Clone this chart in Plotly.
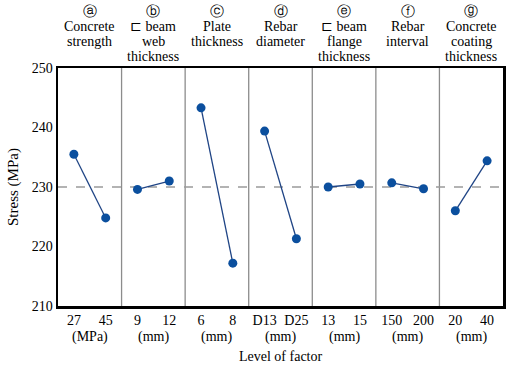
import plotly.graph_objects as go

factor_letters = ["ⓐ", "ⓑ", "ⓒ", "ⓓ", "ⓔ", "ⓕ", "ⓖ"]
factor_names = [
    ["Concrete", "strength"],
    ["\u228f beam", "web", "thickness"],
    ["Plate", "thickness"],
    ["Rebar", "diameter"],
    ["\u228f beam", "flange", "thickness"],
    ["Rebar", "interval"],
    ["Concrete", "coating", "thickness"],
]
level_labels = [["27", "45"], ["9", "12"], ["6", "8"], ["D13", "D25"],
                ["13", "15"], ["150", "200"], ["20", "40"]]
units = ["(MPa)", "(mm)", "(mm)", "(mm)", "(mm)", "(mm)", "(mm)"]
stress = [[235.5, 224.8], [229.6, 231.0], [243.3, 217.2], [239.4, 221.3],
          [230.0, 230.5], [230.7, 229.7], [226.0, 234.4]]
mean_stress = 230
y_ticks = [210, 220, 230, 240, 250]

FONT = "Liberation Serif, Times New Roman, serif"
TOP, BOTTOM = 68, 306
fig = go.Figure()

tickvals, ticktext = [], []
for i, (lv, vals) in enumerate(zip(level_labels, stress)):
    xs = [2 * i + 0.5, 2 * i + 1.5]
    tickvals += xs
    ticktext += lv
    fig.add_trace(go.Scatter(
        x=xs, y=vals, mode="lines+markers",
        line=dict(color="#1f4485", width=1.3),
        marker=dict(color="#0b4f9e", size=9),
        showlegend=False, hoverinfo="skip"))

shapes = []
for i in range(1, 7):
    shapes.append(dict(type="line", xref="x", yref="paper", x0=2 * i, x1=2 * i,
                       y0=0, y1=1, line=dict(color="#8c8c8c", width=1.3), layer="below"))
shapes.append(dict(type="line", xref="paper", yref="y", x0=0, x1=1,
                   y0=mean_stress, y1=mean_stress,
                   line=dict(color="#9a9a9a", width=1.3, dash="dash"), layer="below"))

annotations = []
for i in range(7):
    lines = [factor_letters[i]] + factor_names[i]
    for j, t in enumerate(lines):
        annotations.append(dict(
            x=2 * i + 1, xref="x", y=1, yref="paper", yanchor="middle",
            yshift=TOP - (11 + 15 * j),
            text=t, showarrow=False,
            font=dict(family=FONT, size=14, color="black")))
    annotations.append(dict(
        x=2 * i + 1, xref="x", y=0, yref="paper", yanchor="middle",
        yshift=-(337 - BOTTOM), text=units[i], showarrow=False,
        font=dict(family=FONT, size=14, color="black")))
annotations.append(dict(
    x=0.5, xref="paper", y=0, yref="paper", yanchor="middle",
    yshift=-(356 - BOTTOM), text="Level of factor", showarrow=False,
    font=dict(family=FONT, size=14, color="black")))
annotations.append(dict(
    x=0, xref="paper", xanchor="center", xshift=-(58 - 13),
    y=0.5, yref="paper", yanchor="middle", textangle=-90,
    text="Stress (MPa)", showarrow=False,
    font=dict(family=FONT, size=15, color="black")))

fig.update_layout(
    width=508, height=369,
    margin=dict(l=58, r=5, t=TOP, b=369 - BOTTOM),
    paper_bgcolor="white", plot_bgcolor="white",
    font=dict(family=FONT, size=14, color="black"),
    shapes=shapes, annotations=annotations,
    xaxis=dict(range=[0, 14], tickvals=tickvals, ticktext=ticktext,
               showgrid=False, zeroline=False, ticks="", automargin=False,
               showline=True, mirror=True, linecolor="black", linewidth=2.5,
               tickfont=dict(family=FONT, size=14)),
    yaxis=dict(range=[210, 250], tickvals=y_ticks,
               showgrid=False, zeroline=False, ticks="", automargin=False,
               showline=True, mirror=True, linecolor="black", linewidth=2.5,
               tickfont=dict(family=FONT, size=14)),
)

fig.write_html("out.html",
               config={"displayModeBar": False, "staticPlot": True},
               post_script="document.body.style.margin='0px';document.body.style.overflow='hidden';")
